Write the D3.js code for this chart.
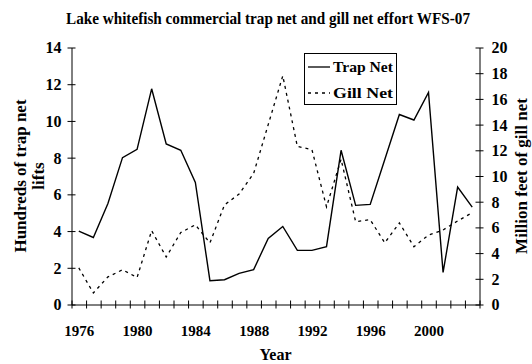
<!DOCTYPE html>
<html>
<head>
<meta charset="utf-8">
<script src="https://cdn.jsdelivr.net/npm/d3@7"></script>
<style>
  html, body { margin: 0; padding: 0; background: #fff; }
</style>
</head>
<body>
<svg id="chart" width="532" height="364"></svg>
<script>
// Fishing effort by year, WFS-07
const years = [1976, 1977, 1978, 1979, 1980, 1981, 1982, 1983, 1984, 1985, 1986, 1987, 1988, 1989,
               1990, 1991, 1992, 1993, 1994, 1995, 1996, 1997, 1998, 1999, 2000, 2001, 2002, 2003];
// Hundreds of trap net lifts (left axis)
const trapNet = [4.0, 3.65, 5.5, 8.0, 8.45, 11.75, 8.75, 8.4, 6.65, 1.3, 1.35, 1.7, 1.9, 3.6,
                 4.25, 2.95, 2.95, 3.15, 8.4, 5.4, 5.45, 7.9, 10.35, 10.05, 11.55, 1.75, 6.4, 5.3];
// Million feet of gill net (right axis)
const gillNet = [2.85, 0.9, 2.15, 2.7, 2.1, 5.75, 3.7, 5.6, 6.2, 4.8, 7.75, 8.6, 10.2, 14.0,
                 17.8, 12.3, 12.05, 7.6, 11.3, 6.45, 6.6, 4.8, 6.35, 4.5, 5.4, 5.8, 6.5, 7.15];
const leftTicks = [0, 2, 4, 6, 8, 10, 12, 14];
const rightTicks = [0, 2, 4, 6, 8, 10, 12, 14, 16, 18, 20];
const yearLabels = [1976, 1980, 1984, 1988, 1992, 1996, 2000];

const title = "Lake whitefish commercial trap net and gill net effort WFS-07";
const leftTitle = ["Hundreds of trap net", "lifts"];
const rightTitle = "Million feet of gill net";
const xTitle = "Year";

const FONT = "'Liberation Serif', 'Times New Roman', serif";
const svg = d3.select("#chart");
const plot = { left: 71.5, right: 479.5, top: 47.5, bottom: 304.5 };

function serif(sel, size) {
  return sel.style("font-family", FONT).style("font-weight", "bold")
    .style("font-size", size + "px").style("fill", "#000");
}

// each year occupies one category slot; points sit in the middle of the slot
const x = d3.scaleLinear()
  .domain([years[0] - 0.5, years[years.length - 1] + 0.5])
  .range([plot.left, plot.right]);
const yL = d3.scaleLinear().domain([0, 14]).range([plot.bottom, plot.top]);
const yR = d3.scaleLinear().domain([0, 20]).range([plot.bottom, plot.top]);

// title
serif(svg.append("text"), 17)
  .attr("x", 268).attr("y", 24)
  .attr("text-anchor", "middle")
  .attr("textLength", 404)
  .attr("lengthAdjust", "spacingAndGlyphs")
  .text(title);

// crossing tick marks
function crossTicks(g, horizontal) {
  g.select(".domain").attr("stroke", "#000").attr("stroke-width", 1);
  g.selectAll(".tick line")
    .attr("stroke", "#000")
    .attr(horizontal ? "y1" : "x1", -4)
    .attr(horizontal ? "y2" : "x2", 4);
}

// left axis
const gL = svg.append("g").attr("transform", `translate(${plot.left},0)`)
  .call(d3.axisLeft(yL).tickValues(leftTicks).tickSize(4).tickPadding(6).tickSizeOuter(0));
crossTicks(gL, false);
serif(gL.selectAll(".tick text"), 16).attr("dy", "0.34em");

// right axis
const gR = svg.append("g").attr("transform", `translate(${plot.right},0)`)
  .call(d3.axisRight(yR).tickValues(rightTicks).tickSize(4).tickPadding(8).tickSizeOuter(0));
crossTicks(gR, false);
serif(gR.selectAll(".tick text"), 16).attr("dy", "0.34em");

// bottom axis: ticks on slot boundaries, labels under every fourth year
const bounds = d3.range(years[0] - 0.5, years[years.length - 1] + 1, 1);
const gB = svg.append("g").attr("transform", `translate(0,${plot.bottom})`)
  .call(d3.axisBottom(x).tickValues(bounds).tickSize(4).tickFormat("").tickSizeOuter(0));
crossTicks(gB, true);
const gBL = svg.append("g").attr("transform", `translate(0,${plot.bottom})`)
  .call(d3.axisBottom(x).tickValues(yearLabels).tickFormat(d3.format("d")).tickSize(0).tickPadding(21));
gBL.select(".domain").remove();
serif(gBL.selectAll(".tick text"), 15).attr("dy", "0.71em");

// axis titles
const lt = serif(svg.append("text"), 17)
  .attr("transform", "translate(26,176) rotate(-90)")
  .attr("text-anchor", "middle");
lt.append("tspan").attr("x", 0).attr("dy", 0).text(leftTitle[0]);
lt.append("tspan").attr("x", 0).attr("dy", 18).text(leftTitle[1]);

serif(svg.append("text"), 17)
  .attr("transform", "translate(527,176) rotate(-90)")
  .attr("text-anchor", "middle")
  .text(rightTitle);

serif(svg.append("text"), 16)
  .attr("x", (plot.left + plot.right) / 2).attr("y", 360)
  .attr("text-anchor", "middle")
  .text(xTitle);

// series lines
const trapLine = d3.line().x((d, i) => x(years[i])).y(d => yL(d));
const gillLine = d3.line().x((d, i) => x(years[i])).y(d => yR(d));

svg.append("path").datum(gillNet)
  .attr("d", gillLine)
  .attr("fill", "none").attr("stroke", "#000").attr("stroke-width", 1.3)
  .attr("stroke-dasharray", "3,4");

svg.append("path").datum(trapNet)
  .attr("d", trapLine)
  .attr("fill", "none").attr("stroke", "#000").attr("stroke-width", 1.4);

// legend
const lg = svg.append("g");
lg.append("rect").attr("x", 304.5).attr("y", 53.5).attr("width", 92).attr("height", 51)
  .attr("fill", "#fff").attr("stroke", "#000").attr("stroke-width", 1);
const legendItems = [
  { name: "Trap Net", dash: null, y: 67 },
  { name: "Gill Net", dash: "3,4", y: 93 }
];
legendItems.forEach(item => {
  lg.append("line").attr("x1", 308).attr("x2", 330).attr("y1", item.y).attr("y2", item.y)
    .attr("stroke", "#000").attr("stroke-width", 1.3)
    .attr("stroke-dasharray", item.dash);
  serif(lg.append("text"), 15).attr("x", 333).attr("y", item.y + 5)
    .attr("textLength", 60).attr("lengthAdjust", "spacingAndGlyphs")
    .text(item.name);
});
</script>
</body>
</html>
